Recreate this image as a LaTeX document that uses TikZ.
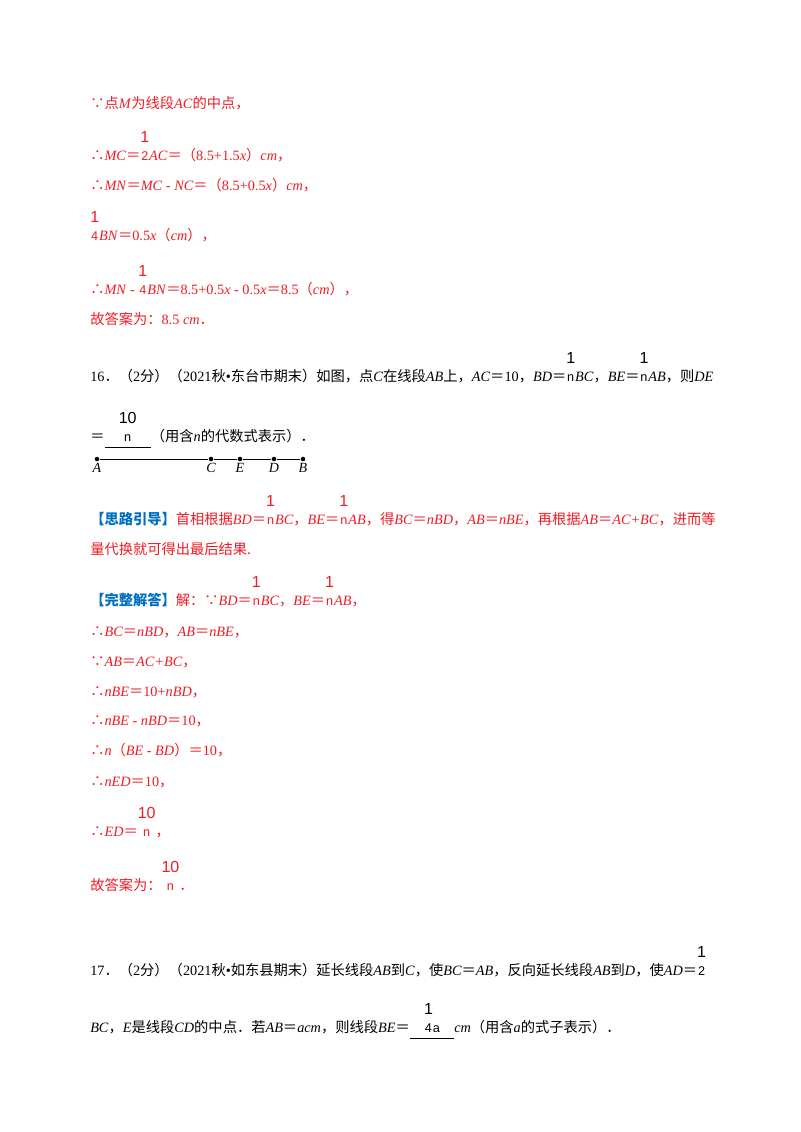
\documentclass[tikz,border=0pt]{standalone}
\usepackage{fontspec}
\setmainfont{Liberation Serif}
\newfontfamily\cjk{Noto Sans CJK SC}
\newfontfamily\sfx{Liberation Sans}
\newcommand\z[1]{{\cjk\upshape #1}}
\newcommand\fr[2]{\begin{tabular}[b]{@{}c@{}}{\sfx\fontsize{12}{12}\selectfont #1}\\[1pt]{\sfx\fontsize{9.5}{10}\selectfont #2}\end{tabular}}
\definecolor{rd}{RGB}{238,28,37}
\definecolor{bl}{RGB}{0,112,192}
\tikzset{ln/.style={anchor=base west,inner sep=0pt,font=\fontsize{10.7}{12}\selectfont},
 r/.style={ln,text=rd}, k/.style={ln,text=black}, dot/.style={circle,fill=black,inner sep=1.2pt}}
\begin{document}
\begin{tikzpicture}[x=0.75pt,y=-0.75pt]
\useasboundingbox[fill=white] (0,0) rectangle (800,1132);
\node[r] (l1) at (90,108) {\z{∵点}\textit{M}\z{为线段}\textit{AC}\z{的中点，}};
\node[r] (l2) at (90,160) {\z{∴}\textit{MC}\z{＝}\fr{1}{2}\textit{AC}\z{＝（}8.5+1.5\textit{x}\z{）}\textit{cm}\z{，}};
\node[r] (l3) at (90,190) {\z{∴}\textit{MN}\z{＝}\textit{MC} - \textit{NC}\z{＝（}8.5+0.5\textit{x}\z{）}\textit{cm}\z{，}};
\node[r] (l4) at (90,240) {\fr{1}{4}\textit{BN}\z{＝}0.5\textit{x}\z{（}\textit{cm}\z{），}};
\node[r] (l5) at (90,294) {\z{∴}\textit{MN} - \fr{1}{4}\textit{BN}\z{＝}8.5+0.5\textit{x} - 0.5\textit{x}\z{＝}8.5\z{（}\textit{cm}\z{），}};
\node[r] (l6) at (90,324) {\z{故答案为：}8.5 \textit{cm}\z{．}};
\node[k] (q16) at (90,381) {16\z{．（}2\z{分）（}2021\z{秋}•\z{东台市期末）如图，点}\textit{C}\z{在线段}\textit{AB}\z{上，}\textit{AC}\z{＝}10\z{，}\textit{BD}\z{＝}\fr{1}{n}\textit{BC}\z{，}\textit{BE}\z{＝}\fr{1}{n}\textit{AB}\z{，则}\textit{DE}};
\node[k] (q16b) at (90,441) {\z{＝}\underline{\quad\fr{10}{n}\quad}\z{（用含}\textit{n}\z{的代数式表示）．}};
\node[dot] (A) at (97,459) {}; \node[dot] (C) at (211,459) {}; \node[dot] (E) at (240,459) {};
\node[dot] (D) at (274,459) {}; \node[dot] (B) at (303,459) {};
\draw (A) -- (C) -- (E) -- (D) -- (B);
\foreach \p in {A,C,E,D,B} \node[anchor=north,yshift=-3pt,inner sep=0pt,font=\fontsize{10.5}{12}\itshape] at (\p) {\p};
\node[r] (s1) at (90,524) {\textcolor{bl}{\z{\textbf{【思路引导】}}}\z{首相根据}\textit{BD}\z{＝}\fr{1}{n}\textit{BC}\z{，}\textit{BE}\z{＝}\fr{1}{n}\textit{AB}\z{，得}\textit{BC}\z{＝}\textit{nBD}\z{，}\textit{AB}\z{＝}\textit{nBE}\z{，再根据}\textit{AB}\z{＝}\textit{AC+BC}\z{，进而等}};
\node[r] (s2) at (90,554) {\z{量代换就可得出最后结果.}};
\node[r] (a1) at (90,605) {\textcolor{bl}{\z{\textbf{【完整解答】}}}\z{解：∵}\textit{BD}\z{＝}\fr{1}{n}\textit{BC}\z{，}\textit{BE}\z{＝}\fr{1}{n}\textit{AB}\z{，}};
\node[r] (a2) at (90,636) {\z{∴}\textit{BC}\z{＝}\textit{nBD}\z{，}\textit{AB}\z{＝}\textit{nBE}\z{，}};
\node[r] (a3) at (90,666) {\z{∵}\textit{AB}\z{＝}\textit{AC+BC}\z{，}};
\node[r] (a4) at (90,696) {\z{∴}\textit{nBE}\z{＝}10+\textit{nBD}\z{，}};
\node[r] (a5) at (90,725) {\z{∴}\textit{nBE} - \textit{nBD}\z{＝}10\z{，}};
\node[r] (a6) at (90,755) {\z{∴}\textit{n}\z{（}\textit{BE} - \textit{BD}\z{）＝}10\z{，}};
\node[r] (a7) at (90,786) {\z{∴}\textit{nED}\z{＝}10\z{，}};
\node[r] (a8) at (90,836) {\z{∴}\textit{ED}\z{＝}\fr{10}{n}\z{，}};
\node[r] (a9) at (90,890) {\z{故答案为：}\fr{10}{n}\z{．}};
\node[k] (q17) at (90,975) {17\z{．（}2\z{分）（}2021\z{秋}•\z{如东县期末）延长线段}\textit{AB}\z{到}\textit{C}\z{，使}\textit{BC}\z{＝}\textit{AB}\z{，反向延长线段}\textit{AB}\z{到}\textit{D}\z{，使}\textit{AD}\z{＝}\fr{1}{2}};
\node[k] (q17b) at (90,1032) {\textit{BC}\z{，}\textit{E}\z{是线段}\textit{CD}\z{的中点．若}\textit{AB}\z{＝}\textit{acm}\z{，则线段}\textit{BE}\z{＝}\underline{\quad\fr{1}{4}{\sfx\fontsize{9.5}{10}\selectfont a}\quad}\textit{cm}\z{（用含}\textit{a}\z{的式子表示）．}};
\end{tikzpicture}
\end{document}
